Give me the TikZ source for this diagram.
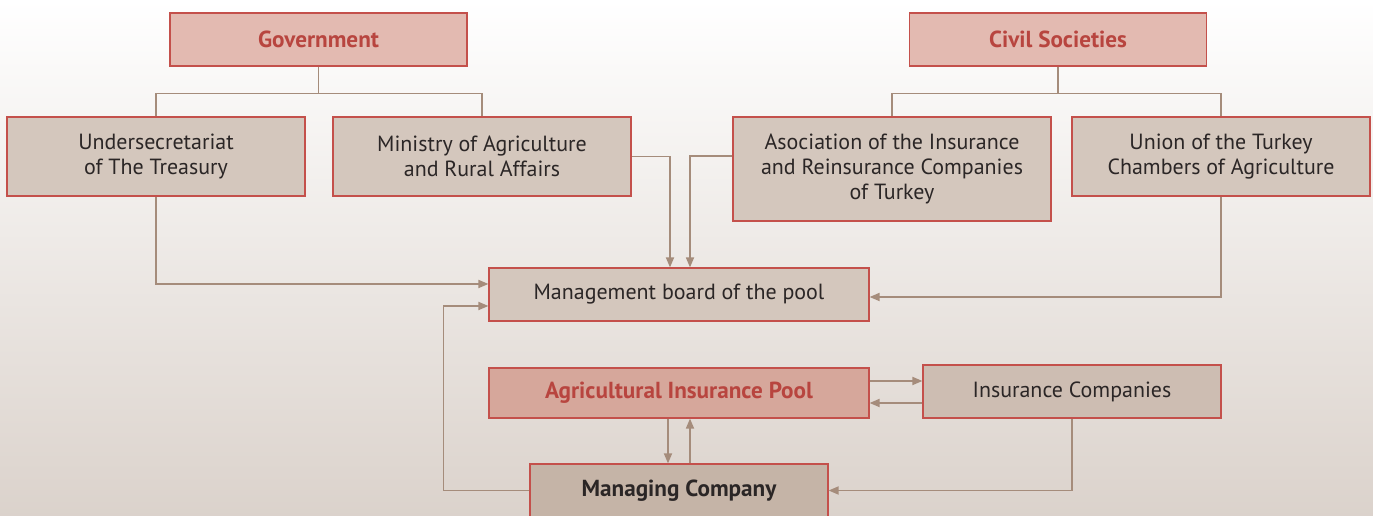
\documentclass[tikz,border=0pt]{standalone}
\usepackage{fontspec}
\setmainfont{PT Sans}
\usetikzlibrary{arrows.meta,positioning,calc}

\definecolor{boxred}{HTML}{C4504B}
\definecolor{textred}{HTML}{B8453F}
\definecolor{headfill}{HTML}{E3BAB1}
\definecolor{unitfill}{HTML}{D4C7BD}
\definecolor{icfill}{HTML}{CDBDB2}
\definecolor{poolfill}{HTML}{D6A79B}
\definecolor{compfill}{HTML}{C5B4A7}
\definecolor{linec}{HTML}{A58C7B}
\definecolor{textdark}{HTML}{2B2626}

\begin{document}
\begin{tikzpicture}[
    x=0.02cm, y=-0.02cm,
    font=\fontsize{12.5pt}{14.2pt}\selectfont,
    head/.style={rectangle, draw=boxred, line width=0.7pt, fill=headfill, minimum width=5.94cm, minimum height=1.06cm, align=center, text=textred, font=\fontsize{13.2pt}{15pt}\selectfont\bfseries},
    unit/.style={rectangle, draw=boxred, line width=0.7pt, fill=unitfill, minimum width=5.96cm, minimum height=1.58cm, align=center, text=textdark},
    link/.style={draw=linec, line width=0.85pt},
    flow/.style={link, -{Triangle[length=5.7pt, width=4.6pt]}}
]
    % Background
    \shade[top color=white, bottom color=black!4!unitfill!70!white] (0,0) rectangle (1373,516);
    \useasboundingbox (0,0) rectangle (1373,516);

    % Top level
    \node[head] (gov) at (318.5,39.5) {Government};
    \node[head] (civil) at (1058,39.5) {Civil Societies};

    % Members
    \node[unit] (under) at (156,156.5) {Undersecretariat\\of The Treasury};
    \node[unit] (mini) at (482,156.5) {Ministry of Agriculture\\and Rural Affairs};
    \node[unit, minimum width=6.36cm, minimum height=2.08cm] (assoc) at (892,169) {Asociation of the Insurance\\and Reinsurance Companies\\of Turkey};
    \node[unit] (union) at (1221,156.5) {Union of the Turkey\\Chambers of Agriculture};

    % Pool
    \node[unit, minimum width=7.6cm, minimum height=1.06cm] (board) at (679,294.5) {Management board of the pool};
    \node[head, fill=poolfill, minimum width=7.6cm, minimum height=1cm] (pool) at (679,393) {Agricultural Insurance Pool};
    \node[unit, fill=icfill, minimum height=1.06cm] (inscomp) at (1072,391.5) {Insurance Companies};
    \node[unit, fill=compfill, minimum height=1.06cm, font=\fontsize{13.2pt}{15pt}\selectfont\bfseries] (manag) at (679,490.5) {Managing Company};

    % Tree lines
    \draw[link] (gov.south) -- ++(0,27) -| (under.north);
    \draw[link] (gov.south) -- ++(0,27) -| (mini.north);
    \draw[link] (civil.south) -- ++(0,27) -| (assoc.north);
    \draw[link] (civil.south) -- ++(0,27) -| (union.north);

    % Into the board
    \draw[flow] (under.south) |- ($(board.west)+(0,-10.5)$);
    \draw[flow] (mini.east) -| ($(board.north)+(-9,0)$);
    \draw[flow] ($(assoc.west)+(0,-13)$) -| ($(board.north)+(11,0)$);
    \draw[flow] (union.south) |- ($(board.east)+(0,2.5)$);
    \draw[flow] (manag.west) -- ++(-86,0) |- ($(board.west)+(0,11.5)$);

    % Pool and companies
    \coordinate (pe1) at ($(pool.east)+(0,-12)$);
    \coordinate (pe2) at ($(pool.east)+(0,10)$);
    \draw[flow] (pe1) -- (pe1 -| inscomp.west);
    \draw[flow] (pe2 -| inscomp.west) -- (pe2);
    \draw[flow] ($(pool.south)+(-11,0)$) -- ($(manag.north)+(-11,0)$);
    \draw[flow] ($(manag.north)+(11,0)$) -- ($(pool.south)+(11,0)$);
    \draw[flow] (inscomp.south) |- (manag.east);
\end{tikzpicture}
\end{document}
